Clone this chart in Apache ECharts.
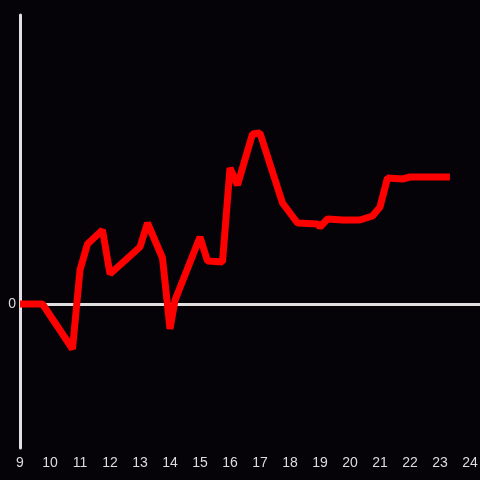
<!DOCTYPE html>
<html>
<head>
<meta charset="utf-8">
<script src="https://cdn.jsdelivr.net/npm/echarts@6/dist/echarts.min.js"></script>
<style>
  html, body { margin: 0; padding: 0; background: #050307; overflow: hidden; }
  #main { width: 480px; height: 480px; }
</style>
</head>
<body>
<div id="main"></div>
<script>
// 时间（小时）和数值
var hours = [9, 9.75, 10.75, 11, 11.25, 11.75, 12, 13, 13.25, 13.75, 14, 14.17, 15, 15.25, 15.75,
             16, 16.25, 16.75, 17, 17.75, 18.25, 18.92, 19, 19.25, 19.75, 20.33, 20.75, 21, 21.25,
             21.75, 22, 23.33];
var values = [0, 0, -45, 34, 60, 74, 30, 57, 81, 46, -25, 4, 67, 43, 42,
              136, 119, 170, 171, 101, 81, 80, 77, 85, 84, 84, 88, 97, 126,
              125, 127, 127];

var line_data = [];
for (let i = 0; i < hours.length; i++) {
    line_data.push([hours[i], values[i]]);
}

var chart = echarts.init(document.getElementById('main'));

var options = {
    backgroundColor: '#050307',
    animation: false,
    grid: {
        left: 20,
        right: 0,
        top: 15,
        bottom: 32,
        outerBoundsMode: 'none'
    },
    xAxis: {
        type: 'value',
        min: 9,
        max: 24 + 1 / 3,
        interval: 1,
        position: 'bottom',
        axisLine: {show: false},
        axisTick: {show: false},
        splitLine: {show: false},
        axisLabel: {
            color: '#dcdcdc',
            fontSize: 14,
            margin: 8,
            fontFamily: 'Liberation Sans',
            formatter: function (v) {
                return Number.isInteger(v) ? String(v) : '';
            }
        }
    },
    yAxis: {
        type: 'value',
        min: -144,
        max: 289,
        interval: 144,
        axisLine: {
            show: true,
            onZero: false,
            lineStyle: {color: '#e0e0e0', width: 3}
        },
        axisTick: {show: false},
        splitLine: {show: false},
        axisLabel: {
            color: '#dcdcdc',
            fontSize: 14,
            margin: 4,
            fontFamily: 'Liberation Sans',
            formatter: function (v) {
                return v === 0 ? '0' : '';
            }
        }
    },
    series: [{
        type: 'line',
        data: line_data,
        showSymbol: false,
        lineStyle: {color: '#ff0000', width: 7},
        itemStyle: {color: '#ff0000'},
        z: 3,
        markLine: {
            // 零线
            silent: true,
            symbol: 'none',
            label: {show: false},
            lineStyle: {color: '#e0e0e0', width: 3, type: 'solid'},
            data: [{yAxis: 0}],
            z: 1
        }
    }]
};

chart.setOption(options);
</script>
</body>
</html>
